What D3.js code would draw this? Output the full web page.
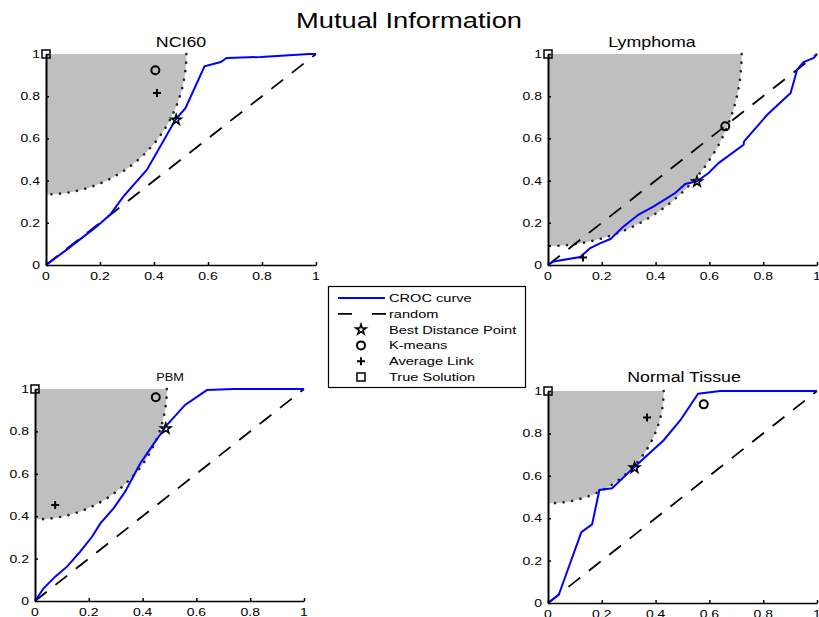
<!DOCTYPE html>
<html>
<head>
<meta charset="utf-8">
<script src="https://cdn.jsdelivr.net/npm/d3@7"></script>
<style>
  body { margin: 0; background: #fff; }
  svg { display: block; font-family: "Liberation Sans", Arial, sans-serif; }
</style>
</head>
<body>
<svg id="chart" width="819" height="617"></svg>
<script>
// ---- data ----
const chartTitle = "Mutual Information";
const panelNames = ["NCI60", "Lymphoma", "PBM", "Normal Tissue"];
const tickValues = [0, 0.2, 0.4, 0.6, 0.8, 1];
const tickLabels = ["0", "0.2", "0.4", "0.6", "0.8", "1"];

const crocNCI60 = [[0,0],[0.077,0.073],[0.188,0.183],[0.238,0.239],[0.287,0.325],[0.374,0.452],
  [0.48,0.689],[0.517,0.744],[0.587,0.942],[0.647,0.962],[0.669,0.981],[0.796,0.986],[0.975,1],[1,1]];
const crocLymphoma = [[0,0],[0.021,0.017],[0.12,0.038],[0.157,0.08],[0.195,0.104],[0.232,0.123],
  [0.281,0.183],[0.337,0.239],[0.393,0.278],[0.473,0.341],[0.51,0.384],[0.554,0.397],[0.597,0.436],
  [0.634,0.483],[0.727,0.57],[0.729,0.586],[0.815,0.712],[0.902,0.815],[0.926,0.926],[0.95,0.962],
  [0.988,0.981],[1,1]];
const crocPBM = [[0,0],[0.032,0.06],[0.075,0.115],[0.119,0.162],[0.168,0.233],[0.212,0.303],
  [0.243,0.366],[0.292,0.437],[0.335,0.516],[0.391,0.649],[0.434,0.728],[0.49,0.83],[0.558,0.925],
  [0.639,0.995],[0.738,1],[1,1]];
const crocNormal = [[0,0],[0.04,0.039],[0.124,0.334],[0.164,0.371],[0.191,0.533],[0.238,0.541],
  [0.318,0.638],[0.43,0.768],[0.492,0.862],[0.558,0.987],[0.64,1],[1,1]];
const crocCurves = [crocNCI60, crocLymphoma, crocPBM, crocNormal];

const bestPoints = [[0.482,0.688],[0.554,0.395],[0.486,0.813],[0.322,0.638]];
const kmeansPoints = [[0.405,0.923],[0.659,0.657],[0.449,0.961],[0.579,0.937]];
const avgLinkPoints = [[0.411,0.815],[0.13,0.036],[0.075,0.453],[0.368,0.875]];
const truePoints = [[0,1],[0,1],[0,1],[0,1]];
// semi-axes of the shaded "better than best point" region
const regionRx = [0.52, 0.72, 0.49, 0.43];
const regionRy = [0.665, 0.91, 0.615, 0.53];

const legendLabels = ["CROC curve", "random", "Best Distance Point", "K-means", "Average Link", "True Solution"];

// ---- layout ----
const layout = [
  {x0: 46, x1: 316, y0: 265, y1: 54, tx: 181, ty: 47, fs: 14},
  {x0: 548, x1: 817, y0: 265, y1: 54, tx: 652, ty: 47, fs: 14},
  {x0: 35, x1: 304, y0: 601, y1: 389, tx: 170, ty: 381, fs: 10},
  {x0: 548, x1: 817, y0: 603, y1: 391, tx: 684, ty: 382, fs: 14}
];
const sx = 1.27; // the figure's text is stretched horizontally

const svg = d3.select("#chart");

function addText(g, x, y, str, size, anchor) {
  return g.append("text")
    .attr("transform", `translate(${x},${y}) scale(${sx},1)`)
    .attr("font-size", size)
    .attr("text-anchor", anchor || "middle")
    .attr("fill", "#000")
    .text(str);
}

function marker(g, type, x, y) {
  if (type === "star") {
    g.append("path").attr("d", d3.symbol(d3.symbolStar, 32)())
      .attr("transform", `translate(${x},${y})`)
      .attr("fill", "none").attr("stroke", "#000").attr("stroke-width", 1.6);
  } else if (type === "circle") {
    g.append("circle").attr("cx", x).attr("cy", y).attr("r", 4)
      .attr("fill", "none").attr("stroke", "#000").attr("stroke-width", 2);
  } else if (type === "plus") {
    g.append("path").attr("d", `M${x-4},${y}H${x+4}M${x},${y-4}V${y+4}`)
      .attr("stroke", "#000").attr("stroke-width", 2);
  } else if (type === "square") {
    g.append("rect").attr("x", x - 4).attr("y", y - 4).attr("width", 8).attr("height", 8)
      .attr("fill", "none").attr("stroke", "#000").attr("stroke-width", 1.5);
  }
}

addText(svg, 409, 28, chartTitle, 21.5);

panelNames.forEach((name, i) => {
  const L = layout[i];
  const x = d3.scaleLinear().domain([0, 1]).range([L.x0, L.x1]);
  const y = d3.scaleLinear().domain([0, 1]).range([L.y0, L.y1]);
  const g = svg.append("g");

  // shaded region
  const rx = regionRx[i], ry = regionRy[i];
  const arc = d3.range(0, 91, 2).map(a => {
    const t = a * Math.PI / 180;
    return [rx * Math.cos(t), 1 - ry * Math.sin(t)];
  });
  const line = d3.line().x(d => x(d[0])).y(d => y(d[1]));
  g.append("path")
    .attr("d", line([[0, 1]].concat(arc)) + "Z")
    .attr("fill", "#bfbfbf");
  g.append("path")
    .attr("d", line(arc))
    .attr("fill", "none").attr("stroke", "#222")
    .attr("stroke-width", 2.6).attr("stroke-linecap", "round")
    .attr("stroke-dasharray", "0.1,8.5");

  // random line
  g.append("path")
    .attr("d", line([[0, 0], [1, 1]]))
    .attr("stroke", "#000").attr("stroke-width", 1.8)
    .attr("stroke-dasharray", "15,11");

  // CROC curve
  g.append("path")
    .attr("d", line(crocCurves[i]))
    .attr("fill", "none").attr("stroke", "#0000ff").attr("stroke-width", 2);

  // axes
  const xAxis = d3.axisBottom(x).tickValues(tickValues).tickFormat((d, j) => tickLabels[j])
    .tickSizeInner(-3).tickSizeOuter(0);
  const yAxis = d3.axisLeft(y).tickValues(tickValues).tickFormat((d, j) => tickLabels[j])
    .tickSizeInner(-3).tickSizeOuter(0);
  const gx = g.append("g").attr("transform", `translate(0,${L.y0})`).call(xAxis);
  const gy = g.append("g").attr("transform", `translate(${L.x0},0)`).call(yAxis);
  [gx, gy].forEach(a => {
    a.select(".domain").attr("stroke", "#000");
    a.selectAll(".tick line").attr("stroke", "#000").attr("stroke-width", 1.5);
    a.selectAll(".tick text").remove();
  });
  gx.select(".domain").attr("stroke-width", 1.5);
  gy.select(".domain").attr("stroke-width", 2);
  tickValues.forEach((v, j) => {
    addText(g, x(v), L.y0 + 15, tickLabels[j], 11);
    addText(g, L.x0 - 6, y(v) + 4, tickLabels[j], 11, "end");
  });

  // markers
  marker(g, "square", x(truePoints[i][0]), y(truePoints[i][1]));
  marker(g, "circle", x(kmeansPoints[i][0]), y(kmeansPoints[i][1]));
  marker(g, "plus", x(avgLinkPoints[i][0]), y(avgLinkPoints[i][1]));
  marker(g, "star", x(bestPoints[i][0]), y(bestPoints[i][1]));

  addText(g, L.tx, L.ty, name, L.fs);
});

// legend
const lg = svg.append("g");
lg.append("rect").attr("x", 328.5).attr("y", 286.5).attr("width", 197).attr("height", 101)
  .attr("fill", "#fff").attr("stroke", "#000").attr("stroke-width", 1.2);
const rowY = d3.scalePoint().domain(legendLabels).range([298, 377]);
legendLabels.forEach((lab, k) => {
  const yy = rowY(lab);
  if (k === 0) {
    lg.append("line").attr("x1", 338).attr("x2", 385).attr("y1", yy).attr("y2", yy)
      .attr("stroke", "#0000ff").attr("stroke-width", 2);
  } else if (k === 1) {
    lg.append("line").attr("x1", 338).attr("x2", 386).attr("y1", yy).attr("y2", yy)
      .attr("stroke", "#000").attr("stroke-width", 1.8).attr("stroke-dasharray", "14,20");
  } else {
    marker(lg, ["star", "circle", "plus", "square"][k - 2], 361, yy);
  }
  addText(lg, 389, yy + 4, lab, 11.5, "start");
});
</script>
</body>
</html>
